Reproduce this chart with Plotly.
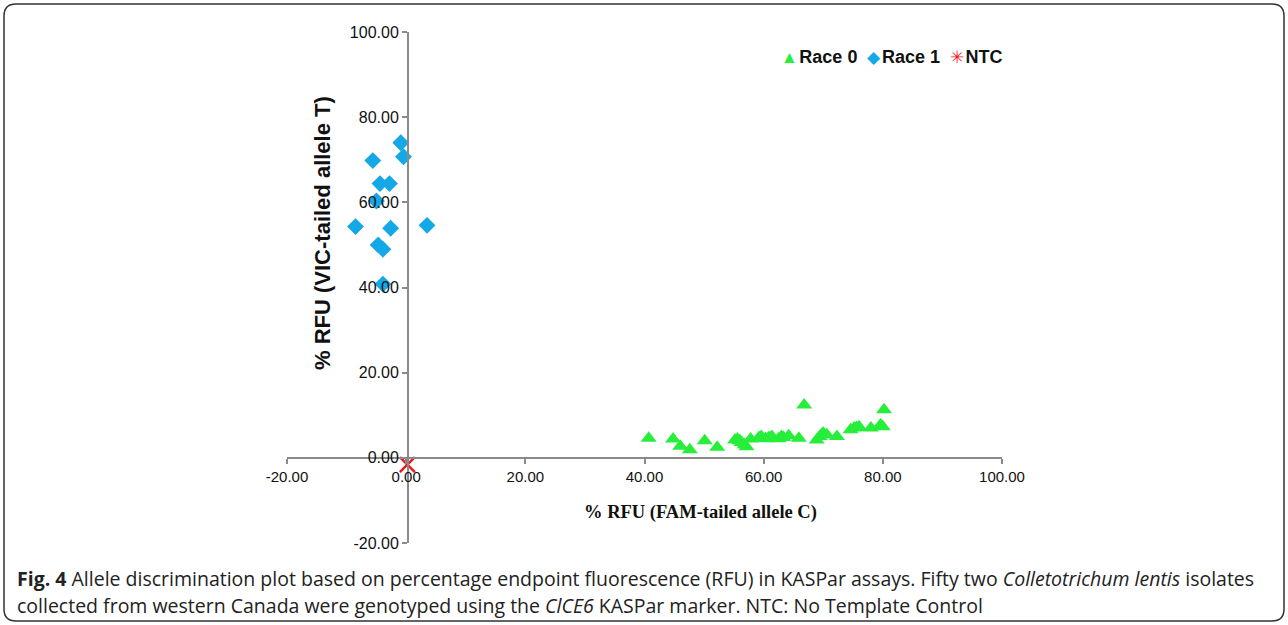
import plotly.graph_objects as go

W, H = 1288, 625

# Race 0 isolates (% RFU FAM, % RFU VIC)
race0_fam = [40.7, 44.8, 46.0, 47.6, 50.1, 52.2, 55.2, 55.6, 56.0, 56.3, 56.8, 57.1, 57.8,
             59.2, 59.6, 60.3, 60.8, 61.1, 61.4, 62.5, 63.0, 63.3, 64.2, 65.9, 66.8, 68.9,
             69.4, 69.8, 70.0, 70.6, 72.3, 74.6, 75.2, 75.6, 76.0, 78.0, 79.6, 79.8, 80.0, 80.2]
race0_vic = [4.6, 4.4, 2.7, 1.9, 4.0, 2.5, 4.2, 4.4, 4.0, 3.6, 3.1, 2.6, 4.4,
             4.8, 5.0, 4.5, 4.7, 4.8, 5.0, 4.5, 5.0, 4.8, 5.2, 4.6, 12.4, 4.2,
             5.0, 5.6, 5.8, 5.4, 5.0, 6.6, 7.0, 7.1, 7.3, 7.0, 7.7, 7.5, 7.3, 11.3]

# Race 1 isolates
race1_fam = [-0.9, -0.45, -5.6, -4.4, -2.8, -5.0, -8.5, -2.6, 3.5, -4.7, -3.9, -3.9]
race1_vic = [74.0, 70.7, 69.8, 64.4, 64.4, 60.3, 54.3, 53.9, 54.6, 50.0, 49.0, 40.8]

# No template control
ntc_fam = [0.2]
ntc_vic = [-1.6]

tick_vals = [-20, 0, 20, 40, 60, 80, 100]
tick_text = ["-20.00", "0.00", "20.00", "40.00", "60.00", "80.00", "100.00"]

GREEN, BLUE, RED = "#26EE3A", "#14A9E6", "#F01818"

# plot-area geometry in pixels
px_left, px_right = 287, 1002
px_top, px_bottom = 32, 543
px_x0, px_y0 = 408, 458  # where the axes cross (data 0, 0)

fig = go.Figure()
fig.add_trace(go.Scatter(
    x=race0_fam, y=race0_vic, mode="markers", name="Race 0",
    marker=dict(symbol="triangle-up", size=14, color=GREEN),
    cliponaxis=False))
fig.add_trace(go.Scatter(
    x=race1_fam, y=race1_vic, mode="markers", name="Race 1",
    marker=dict(symbol="diamond", size=13, color=BLUE),
    cliponaxis=False))
fig.add_trace(go.Scatter(
    x=ntc_fam, y=ntc_vic, mode="markers", name="NTC",
    marker=dict(symbol="x-thin-open", size=15, color=RED,
                line=dict(color=RED, width=2.5)),
    cliponaxis=False))

axis_common = dict(
    range=[-20, 100], tickmode="array", tickvals=tick_vals, ticktext=tick_text,
    showgrid=False, zeroline=False, showline=True, linecolor="#8a8a8a",
    linewidth=2, ticks="outside", ticklen=5, tickwidth=1.5, tickcolor="#8a8a8a",
    anchor="free", automargin=False,
)

fig.update_layout(
    width=W, height=H,
    margin=dict(l=0, r=0, t=0, b=0, autoexpand=False),
    paper_bgcolor="white", plot_bgcolor="white",
    xaxis=dict(**axis_common,
               domain=[px_left / W, px_right / W],
               position=1 - px_y0 / H,
               tickfont=dict(family="Liberation Sans, Arial", size=15, color="#111")),
    yaxis=dict(**axis_common,
               domain=[1 - px_bottom / H, 1 - px_top / H],
               position=px_x0 / W,
               tickfont=dict(family="Liberation Sans, Arial", size=16, color="#111")),
    showlegend=False,
)

# compact legend: symbol glyph directly in front of each label
legend_items = [("▲", GREEN, "Race 0"), ("◆", BLUE, "Race 1"), ("✳", RED, "NTC")]
legend_html = "&nbsp;&nbsp;".join(
    f'<span style="color:{c};font-size:17px">{s}</span>&#8202;<b>{t}</b>'
    for s, c, t in legend_items)
fig.add_annotation(
    text=legend_html, xref="paper", yref="paper", x=779 / W, y=1 - 57 / H,
    xanchor="left", yanchor="middle", showarrow=False,
    font=dict(family="Liberation Sans, Arial", size=18, color="#111"))

# axis titles
fig.add_annotation(
    text="<b>% RFU (VIC-tailed allele T)</b>", xref="paper", yref="paper",
    x=322 / W, y=1 - 233 / H, xanchor="center", yanchor="middle",
    textangle=-90, showarrow=False,
    font=dict(family="Liberation Sans, Arial", size=22, color="#111"))
fig.add_annotation(
    text="<b>% RFU (FAM-tailed allele C)</b>", xref="paper", yref="paper",
    x=700 / W, y=1 - 512 / H, xanchor="center", yanchor="middle", showarrow=False,
    font=dict(family="Liberation Serif, Times New Roman", size=18.5, color="#111"))

# caption
cap_font = dict(family="Open Sans, Roboto", size=19.5, color="#222")
fig.add_annotation(
    text="<b>Fig. 4</b> Allele discrimination plot based on percentage endpoint fluorescence (RFU) "
         "in KASPar assays. Fifty two <i>Colletotrichum lentis</i> isolates",
    xref="paper", yref="paper", x=15 / W, y=1 - 578 / H, xanchor="left", yanchor="middle",
    showarrow=False, font=cap_font)
fig.add_annotation(
    text="collected from western Canada were genotyped using the <i>ClCE6</i> KASPar marker. "
         "NTC: No Template Control",
    xref="paper", yref="paper", x=15 / W, y=1 - 605 / H, xanchor="left", yanchor="middle",
    showarrow=False, font=cap_font)

# rounded frame around the figure
x0, x1 = 4 / W, 1284 / W
yt, yb = 1 - 4 / H, 1 - 621 / H
rx, ry = 12 / W, 12 / H
frame = (f"M {x0+rx},{yt} L {x1-rx},{yt} Q {x1},{yt} {x1},{yt-ry} "
         f"L {x1},{yb+ry} Q {x1},{yb} {x1-rx},{yb} L {x0+rx},{yb} "
         f"Q {x0},{yb} {x0},{yb+ry} L {x0},{yt-ry} Q {x0},{yt} {x0+rx},{yt} Z")
fig.add_shape(type="path", path=frame, xref="paper", yref="paper",
              line=dict(color="#333", width=1.5), layer="below")

fig.write_html("out.html")
